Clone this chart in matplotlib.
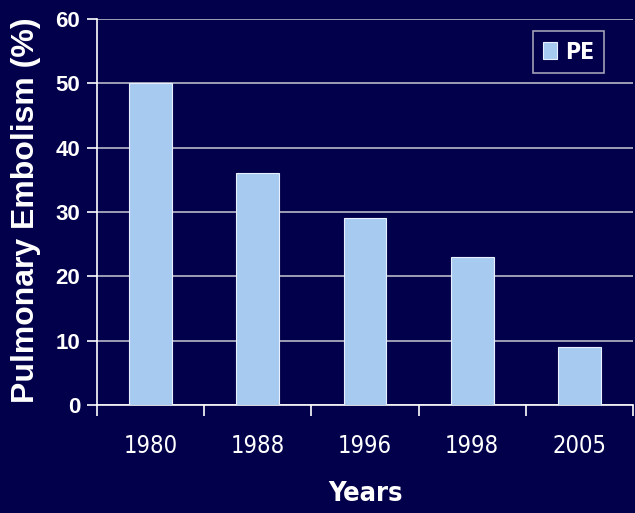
import numpy as np
import matplotlib.pyplot as plt

years = ['1980', '1988', '1996', '1998', '2005']
pe = [50, 36, 29, 23, 9]

bg = '#02004a'
bar_col = '#a6caf0'

fig = plt.figure(figsize=(6.35, 5.13), dpi=100, facecolor=bg)
ax = fig.add_axes([97/635, 1-405/513, 536/635, 386/513], facecolor=bg)

x = np.arange(len(years))
ax.bar(x, pe, width=0.4, color=bar_col, edgecolor='#e8f0ff', linewidth=0.8, label='PE', zorder=3)

ax.set_xlim(-0.5, len(years) - 0.5)
ax.set_ylim(0, 60)
ax.set_yticks(range(0, 61, 10))
ax.yaxis.grid(True, color='#b8b8c8', linewidth=1.2, zorder=0)

# tick marks on category edges, labels in the middle
ax.set_xticks(np.arange(-0.5, len(years), 1.0))
ax.set_xticklabels([])
ax.set_xticks(x, minor=True)
ax.set_xticklabels(years, minor=True, fontsize=17, color='white',
                   family='DejaVu Sans', stretch='condensed')
ax.tick_params(axis='x', which='major', direction='out', length=8, width=1.2, color='white')
ax.tick_params(axis='x', which='minor', length=0, pad=21)
ax.tick_params(axis='y', direction='out', length=7, width=1.2, color='white', pad=5)
for lab in ax.get_yticklabels():
    lab.set_fontsize(16)
    lab.set_fontweight('bold')
    lab.set_color('white')
    lab.set_family('Liberation Sans')

for s in ['top', 'right']:
    ax.spines[s].set_visible(False)
for s in ['left', 'bottom']:
    ax.spines[s].set_color('white')
    ax.spines[s].set_linewidth(1.2)

fig.text(26/635, 1-210/513, 'Pulmonary Embolism (%)', rotation=90, ha='center', va='center',
         fontsize=23, fontweight='bold', color='white', family='Liberation Sans')
fig.text(366/635, 1-494/513, 'Years', ha='center', va='center',
         fontsize=19.5, fontweight='bold', color='white',
         family='DejaVu Sans', stretch='condensed')

leg = ax.legend(loc='upper left', bbox_to_anchor=(533/635, 1-31/513),
                bbox_transform=fig.transFigure, frameon=True, fancybox=False, borderaxespad=0,
                handlelength=0.62, handleheight=0.78, handletextpad=0.35, borderpad=0.42,
                prop={'family': 'DejaVu Sans', 'stretch': 'condensed', 'weight': 'bold', 'size': 16.5})
leg.get_frame().set_facecolor(bg)
leg.get_frame().set_edgecolor('#c8c8d0')
leg.get_frame().set_linewidth(1.2)
for t in leg.get_texts():
    t.set_color('white')

fig.savefig('out.png', dpi=100, facecolor=bg)
